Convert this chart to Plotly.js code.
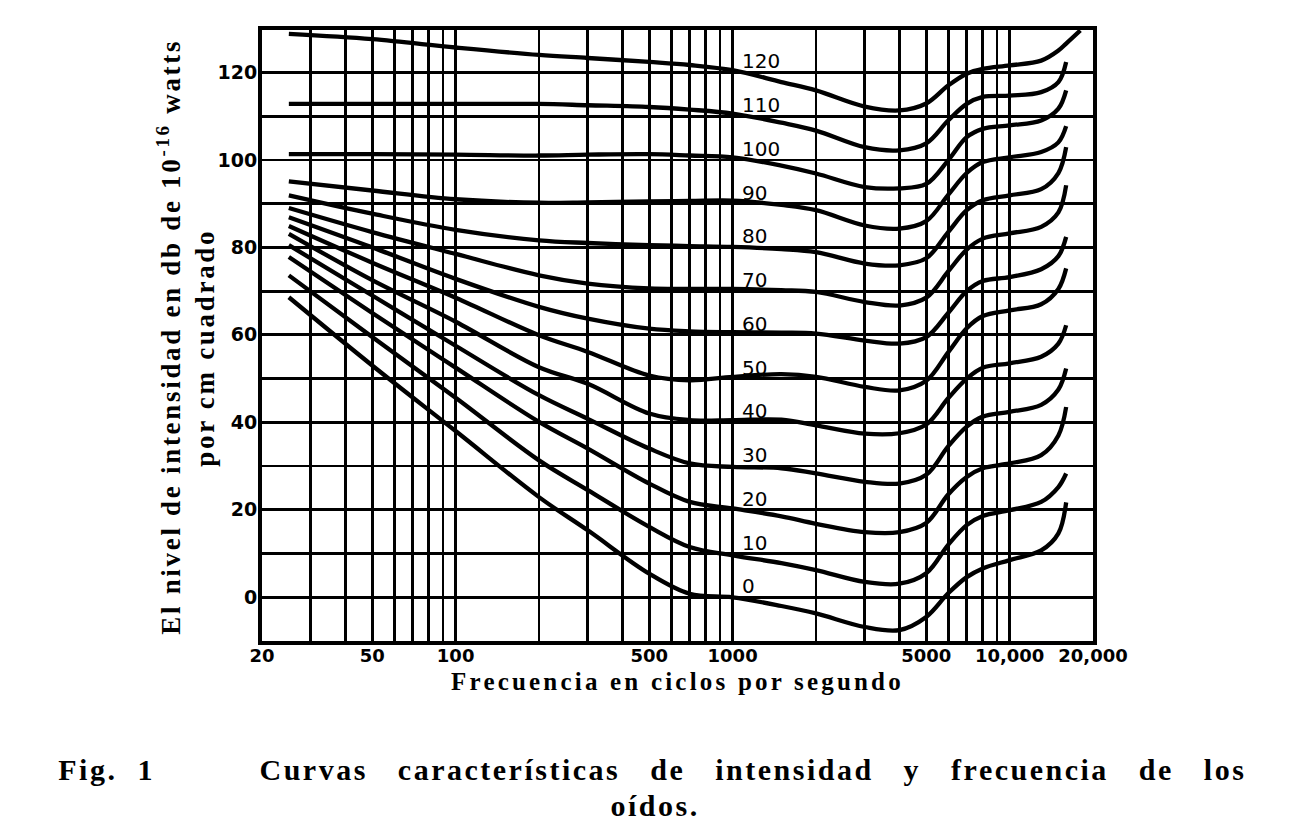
<!DOCTYPE html>
<html>
<head>
<meta charset="utf-8">
<script src="https://cdn.plot.ly/plotly-3.0.1.min.js"></script>
<style>
  html, body { margin: 0; padding: 0; background: #fff; }
  #chart { width: 1304px; height: 825px; }
  text.xtitle { letter-spacing: 3.2px; }
  g.annotation[data-index="13"] text, g.annotation[data-index="14"] text { letter-spacing: 2.7px; }
  g.annotation[data-index="15"] text, g.annotation[data-index="16"] text, g.annotation[data-index="17"] text { letter-spacing: 2.5px; }
</style>
</head>
<body>
<div id="chart"></div>
<script>
// Frequencies (Hz) at which the curves were read
const freqs = [25, 50, 100, 200, 300, 500, 700, 1000, 1500, 2000, 3000, 4000, 5000, 6000, 7000, 8000, 10000, 13000, 15000, 16000];
const freqsTop = [25, 50, 100, 200, 300, 500, 700, 1000, 1500, 2000, 3000, 4000, 5000, 6000, 7000, 8000, 10000, 13000, 15000, 16000, 18000];

// Intensity level (db) of each equal-loudness curve
const c120 = [128.8, 127.6, 125.7, 124.0, 123.3, 122.4, 121.7, 120.5, 117.8, 115.9, 112.2, 111.3, 112.9, 117.0, 119.7, 120.8, 121.6, 122.7, 125.0, 126.6, 129.6];
const c110 = [112.8, 112.8, 112.8, 112.8, 112.5, 112.1, 111.5, 110.6, 108.5, 106.7, 102.9, 102.2, 103.8, 109.0, 112.8, 114.4, 114.7, 115.5, 117.8, 122.4];
const c100 = [101.3, 101.3, 101.2, 101.0, 101.2, 101.3, 101.0, 100.6, 98.7, 96.9, 93.8, 93.5, 94.5, 99.9, 105.2, 107.1, 107.9, 109.0, 111.7, 115.9];
const c90  = [95.1, 93.0, 91.0, 90.2, 90.3, 90.5, 90.6, 90.7, 89.7, 88.5, 85.0, 84.3, 86.0, 92.0, 97.0, 99.5, 100.6, 101.8, 104.0, 107.7];
const c80  = [91.9, 87.7, 84.0, 81.6, 81.0, 80.5, 80.3, 80.1, 79.6, 78.9, 76.3, 75.9, 77.5, 83.5, 88.5, 90.8, 91.9, 93.3, 97.0, 102.9];
const c70  = [89.0, 83.5, 78.5, 73.6, 71.7, 70.6, 70.5, 70.5, 70.2, 69.8, 67.5, 66.7, 68.5, 74.5, 79.5, 82.0, 83.2, 84.7, 88.0, 94.2];
const c60  = [86.9, 80.0, 72.8, 66.4, 63.7, 61.4, 60.8, 60.6, 60.5, 60.3, 58.7, 58.0, 59.5, 65.0, 70.0, 72.3, 73.2, 75.0, 78.0, 82.4];
const c50  = [84.9, 76.5, 68.5, 59.9, 56.1, 50.7, 49.6, 50.4, 51.0, 50.4, 48.1, 47.3, 49.5, 56.0, 61.5, 64.3, 65.6, 67.0, 70.5, 75.2];
const c40  = [83.1, 72.5, 63.0, 52.6, 48.8, 42.0, 40.5, 40.5, 40.6, 39.3, 37.4, 37.5, 39.5, 45.5, 50.0, 52.5, 53.5, 55.0, 58.0, 62.2];
const c30  = [80.5, 69.0, 57.5, 46.2, 40.8, 34.0, 30.6, 29.8, 29.5, 28.3, 26.4, 26.0, 28.0, 34.5, 39.0, 41.3, 42.4, 44.0, 47.5, 52.3];
const c20  = [77.8, 65.0, 52.5, 40.1, 34.0, 26.0, 21.8, 20.3, 18.5, 16.8, 14.9, 14.9, 17.0, 23.5, 27.5, 29.5, 30.6, 32.5, 37.0, 43.5];
const c10  = [73.6, 59.5, 45.6, 31.3, 24.5, 16.1, 11.5, 9.6, 7.8, 6.2, 3.5, 3.1, 5.5, 12.0, 16.5, 18.6, 19.9, 21.8, 25.2, 28.3];
const c0   = [68.6, 53.0, 38.0, 22.9, 15.3, 5.4, 0.8, 0.0, -2.0, -3.7, -6.8, -7.5, -4.5, 0.9, 4.6, 6.6, 8.5, 10.7, 14.6, 21.7];

const curveLevels = [120, 110, 100, 90, 80, 70, 60, 50, 40, 30, 20, 10, 0];
const curveLabels = ['120', '110', '100', '90', '80', '70', '60', '50', '40', '30', '20', '10', '0'];
const curveData = [c120, c110, c100, c90, c80, c70, c60, c50, c40, c30, c20, c10, c0];

// Axis grid and tick labels
const xGrid = [30, 40, 50, 60, 70, 80, 90, 100, 200, 300, 400, 500, 600, 700, 800, 900, 1000, 2000, 3000, 4000, 5000, 6000, 7000, 8000, 9000, 10000];
const xLabelVals = [20, 50, 100, 500, 1000, 5000, 10000, 20000];
const xLabelText = ['20', '50', '100', '500', '1000', '5000', '10,000', '20,000'];
const yGrid = [0, 10, 20, 30, 40, 50, 60, 70, 80, 90, 100, 110, 120];
const yLabelVals = [0, 20, 40, 60, 80, 100, 120];

const labelFreq = 1000;
const xRange = [Math.log10(20), Math.log10(20000)];
const yRange = [-10, 129.7];

const traces = curveData.map((vals, i) => ({
  type: 'scatter',
  mode: 'lines',
  x: vals.length === freqsTop.length ? freqsTop : freqs,
  y: vals,
  line: {color: '#000', width: 4.3, shape: 'spline', smoothing: 1},
  hoverinfo: 'skip',
  name: curveLabels[i]
}));
// empty trace to attach the grid-only overlay axes
traces.push({type: 'scatter', mode: 'lines', x: [], y: [], xaxis: 'x2', yaxis: 'y2', hoverinfo: 'skip', showlegend: false});

const annotations = [];
curveLevels.forEach((lv, i) => {
  annotations.push({
    xref: 'x', yref: 'y',
    x: Math.log10(labelFreq), y: lv,
    xanchor: 'left', yanchor: 'bottom',
    xshift: 7, yshift: -3,
    text: curveLabels[i],
    showarrow: false,
    font: {family: 'DejaVu Sans', size: 20, color: '#000'}
  });
});

const serif = 'Liberation Serif';
const nb = '\u00a0';
annotations.push({
  xref: 'paper', yref: 'paper', x: -0.1117, y: 0.4984,
  xanchor: 'center', yanchor: 'middle', textangle: -90, showarrow: false,
  text: 'El nivel de intensidad en db de 10<sup>-16</sup> watts',
  font: {family: serif, size: 27, weight: 'bold', color: '#000'}
});
annotations.push({
  xref: 'paper', yref: 'paper', x: -0.0686, y: 0.4804,
  xanchor: 'center', yanchor: 'middle', textangle: -90, showarrow: false,
  text: 'por cm cuadrado',
  font: {family: serif, size: 27, weight: 'bold', color: '#000'}
});
// Caption (centred anchors so the letter spacing stays balanced)
annotations.push({
  xref: 'paper', yref: 'paper', x: -0.1871, y: -0.2095,
  xanchor: 'center', yanchor: 'middle', showarrow: false,
  text: 'Fig.' + nb + ' 1',
  font: {family: serif, size: 30, weight: 'bold', color: '#000'}
});
annotations.push({
  xref: 'paper', yref: 'paper', x: 0.5903, y: -0.2095,
  xanchor: 'center', yanchor: 'middle', showarrow: false,
  text: ['Curvas', 'características', 'de', 'intensidad', 'y', 'frecuencia', 'de', 'los'].join(nb + nb + ' '),
  font: {family: serif, size: 30, weight: 'bold', color: '#000'}
});
annotations.push({
  xref: 'paper', yref: 'paper', x: 0.473, y: -0.2700,
  xanchor: 'center', yanchor: 'middle', showarrow: false,
  text: 'oídos.',
  font: {family: serif, size: 30, weight: 'bold', color: '#000'}
});

const gridAxis = {
  showgrid: true, gridcolor: '#000', gridwidth: 2.8,
  showticklabels: false, ticks: '', zeroline: false, showline: false
};

const layout = {
  width: 1304, height: 825,
  margin: {l: 262, r: 211, t: 30, b: 184},
  paper_bgcolor: '#fff', plot_bgcolor: '#fff',
  showlegend: false,
  xaxis: {
    type: 'log', range: xRange,
    tickmode: 'array', tickvals: xLabelVals, ticktext: xLabelText,
    showgrid: false,
    showline: true, mirror: true, linecolor: '#000', linewidth: 4,
    ticks: '', zeroline: false, ticklabelstandoff: -5,
    tickfont: {family: 'DejaVu Sans', size: 18, weight: 'bold', color: '#000'},
    title: {text: 'Frecuencia en ciclos por segundo', standoff: 9,
            font: {family: serif, size: 25, weight: 'bold', color: '#000'}}
  },
  yaxis: {
    range: yRange,
    tickmode: 'array', tickvals: yLabelVals,
    showgrid: false,
    showline: true, mirror: true, linecolor: '#000', linewidth: 4,
    ticks: '', zeroline: false, ticklabelstandoff: -3,
    tickfont: {family: 'DejaVu Sans', size: 19, weight: 'bold', color: '#000'}
  },
  xaxis2: Object.assign({type: 'log', range: xRange, overlaying: 'x', anchor: 'y2',
                         tickmode: 'array', tickvals: xGrid}, gridAxis),
  yaxis2: Object.assign({range: yRange, overlaying: 'y', anchor: 'x2',
                         tickmode: 'array', tickvals: yGrid}, gridAxis),
  annotations: annotations
};

Plotly.newPlot('chart', traces, layout, {staticPlot: true, displayModeBar: false}).then(gd => {
  // drop empty placeholder text nodes and Plotly's off-screen measuring svg
  gd.querySelectorAll('text').forEach(t => { if (!t.textContent.trim()) t.remove(); });
  const tester = document.getElementById('js-plotly-tester');
  if (tester) tester.remove();
});
</script>
</body>
</html>
